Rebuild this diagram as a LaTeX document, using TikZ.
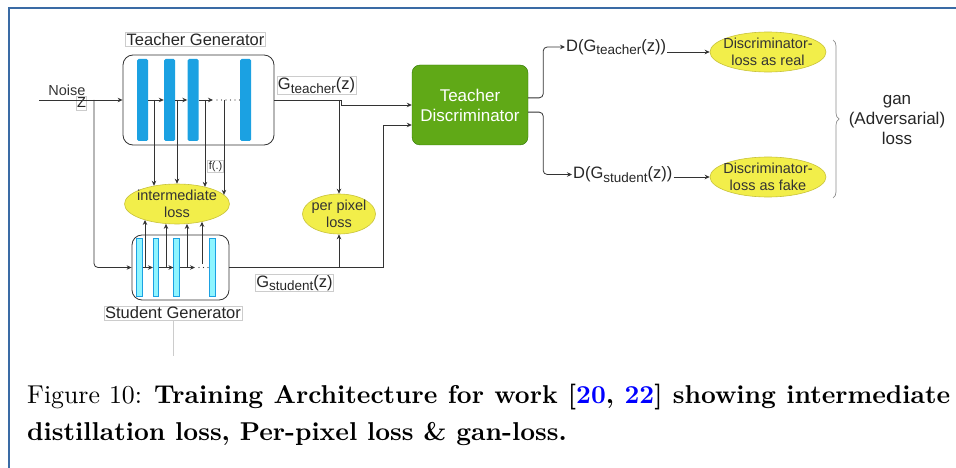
\documentclass[tikz,border=0pt]{standalone}
\usepackage{fontspec}
\usepackage{tikz}
\usepackage{xcolor}
\usetikzlibrary{positioning, calc, shapes.geometric, arrows.meta, decorations.pathreplacing}

\newfontfamily\diagfont{Liberation Sans}
\newfontfamily\capfont[Extension=.otf, BoldFont=lmroman10-bold]{lmroman10-regular}

\newcommand\bigtxt{\diagfont\fontsize{16.5}{19.5}\selectfont}
\newcommand\discrtxt{\diagfont\fontsize{17}{20}\selectfont}
\newcommand\midtxt{\diagfont\fontsize{14.5}{16.5}\selectfont}
\newcommand\smalltxt{\diagfont\fontsize{11}{13}\selectfont}
\newcommand\captxt{\capfont\fontsize{25.8}{37}\selectfont}
\newcommand\lowtxt[1]{\raisebox{-3.5pt}{\fontsize{13.5}{14}\selectfont #1}}

\definecolor{tblue}{HTML}{1BA1E2}
\definecolor{scyan}{HTML}{8EF5FF}
\definecolor{dgreen}{HTML}{60A917}
\definecolor{dgreenb}{HTML}{2D7600}
\definecolor{lyellow}{HTML}{F2EE4A}
\definecolor{yborder}{HTML}{C8C23A}
\definecolor{framecol}{HTML}{3A6BA5}
\definecolor{linecol}{HTML}{333333}

\begin{document}
\begin{tikzpicture}[x=1pt, y=-1pt,
    gen/.style={draw=black!80, line width=0.8pt, rounded corners=10pt},
    tbar/.style={fill=tblue, rounded corners=1.5pt, minimum width=11pt, minimum height=82pt, inner sep=0},
    sbar/.style={fill=scyan, draw=tblue, line width=0.6pt, minimum width=5.5pt, minimum height=58pt, inner sep=0},
    lbl/.style={draw=black!20, line width=0.6pt, inner sep=1pt, text=black!85},
    loss/.style={ellipse, fill=lyellow, draw=yborder, line width=0.6pt, inner sep=-8pt, align=center, text=black!80},
    arr/.style={-{Stealth[length=5pt,width=4.5pt]}, draw=linecol, line width=0.8pt},
    dotline/.style={draw=linecol, line width=1.1pt, line cap=round, dash pattern=on 0pt off 4.5pt},
    gbrace/.style={decorate, decoration={brace, amplitude=6pt}, draw=black!45, line width=0.7pt}]

    \useasboundingbox (0,0) rectangle (956,468);
    \draw[framecol, line width=1.6pt] (9,468) -- (9,8) -- (956,8);

    % generators
    \node[gen, minimum width=151pt, minimum height=90pt] (tgen) at (198.5,100) {};
    \node[gen, minimum width=97pt, minimum height=65pt] (sgen) at (180.5,267.5) {};
    \node[lbl, font=\bigtxt] (tgenlbl) at (195.5,39.5) {Teacher Generator};
    \node[lbl, font=\bigtxt] (sgenlbl) at (173,313) {Student Generator};
    \draw[black!20, line width=0.6pt] (sgenlbl.south) -- ++(0,36);

    \node[tbar] (tb1) at (142.5,100) {};
    \node[tbar] (tb2) at (169.5,100) {};
    \node[tbar] (tb3) at (193,100) {};
    \node[tbar] (tb4) at (245.5,100) {};

    \node[sbar] (sb1) at (139.5,267.5) {};
    \node[sbar] (sb2) at (156,267.5) {};
    \node[sbar] (sb3) at (176.5,267.5) {};
    \node[sbar] (sb4) at (212.5,267.5) {};

    % noise input
    \node[font=\midtxt, text=black!80] (noise) at (67,90) {Noise};
    \node[lbl, font=\midtxt, inner xsep=0.5pt, inner ysep=2pt] (zin) at (81.5,103) {Z};
    \coordinate (nin) at (39,100);
    \coordinate (nsplit) at (94,100);
    \draw[arr] (nin) -- (tgen.west);
    \draw[arr, rounded corners=4pt] (nsplit) |- (sgen.west);

    % inside teacher
    \coordinate (tdots) at (213,100);
    \draw[arr] (tb1) -- (tb2);
    \draw[arr] (tb2) -- (tb3);
    \draw[arr] (tb3) -- (tdots);
    \draw[dotline, shorten <=4pt] (tdots) -- (tb4);

    % inside student
    \coordinate (sdots) at (195,267.5);
    \draw[arr] (sb1) -- (sb2);
    \draw[arr] (sb2) -- (sb3);
    \draw[arr] (sb3) -- (sdots);
    \draw[dotline, shorten <=4pt] (sdots) -- (sb4);

    % losses
    \node[loss, minimum width=105pt, minimum height=40pt, font=\midtxt] (imloss) at (177,204) {intermediate\\loss};
    \node[loss, minimum width=73pt, minimum height=40pt, font=\midtxt] (pploss) at (339,214) {per pixel\\loss};
    \node[lbl, font=\smalltxt] (flbl) at (215.5,166.5) {f(.)};

    \coordinate (ttap1) at (154,100);
    \coordinate (ttap2) at (177,100);
    \coordinate (ttap3) at (205,100);
    \coordinate (ttap4) at (224,100);
    \draw[arr] (ttap1) -- (ttap1 |- imloss.142);
    \draw[arr] (ttap2) -- (ttap2 |- imloss.north);
    \draw[arr] (ttap3) -- (ttap3 |- imloss.31);
    \draw[arr] (ttap4) -- (ttap4 |- imloss.11);

    \coordinate (stap1) at (145,267.5);
    \coordinate (stap2) at (166,267.5);
    \coordinate (stap3) at (187,267.5);
    \coordinate (stap4) at (202,264);
    \draw[arr] (stap1) -- (stap1 |- imloss.206);
    \draw[arr] (stap2) -- (stap2 |- imloss.241);
    \draw[arr] (stap3) -- (stap3 |- imloss.297);
    \draw[arr] (stap4) -- (stap4 |- imloss.325);

    % discriminator
    \node[draw=dgreenb, fill=dgreen, rounded corners=8pt, minimum width=116pt, minimum height=80pt,
          text=white, align=center, font=\discrtxt] (tdisc) at (470,105) {Teacher\\Discriminator};

    \node[lbl, font=\bigtxt] (gtlbl) at (316.5,85.5) {G\lowtxt{teacher}(z)};
    \coordinate (tgout) at (339,100);
    \draw[arr] (tgen.east) -- ++(67,0) -- ++(0,5) -- (tdisc.west);
    \draw[arr] (tgout) -- (pploss.north);

    \node[lbl, font=\bigtxt] (gslbl) at (294.5,283) {G\lowtxt{student}(z)};
    \coordinate (sbend) at (383,125);
    \coordinate (sgout) at (339,267.5);
    \draw[arr] (sgen.east) -| (sbend) -- (sbend -| tdisc.west);
    \draw[arr] (sgout) -- (pploss.south);

    % discriminator outputs
    \node[anchor=west, inner sep=1pt, font=\bigtxt, text=black!85] (dgt) at (565,47) {D(G\lowtxt{teacher}(z))};
    \node[anchor=west, inner sep=1pt, font=\bigtxt, text=black!85] (dgs) at (572,174.5) {D(G\lowtxt{student}(z))};
    \draw[arr, rounded corners=4pt] (tdisc.7) -- ++(15,0) |- (dgt.west);
    \draw[arr, rounded corners=4pt] (tdisc.-7) -- ++(15,0) |- (dgs.west);

    \node[loss, minimum width=116pt, minimum height=40pt, font=\midtxt] (lreal) at (768,52) {Discriminator-\\loss as real};
    \node[loss, minimum width=116pt, minimum height=40pt, font=\midtxt] (lfake) at (768,177) {Discriminator-\\loss as fake};
    \draw[arr] (dgt.east |- lreal.west) -- (lreal.west);
    \draw[arr] (dgs.east |- lfake.west) -- (lfake.west);

    % gan loss
    \coordinate (btop) at (833,40);
    \coordinate (bbot) at (833,198);
    \draw[gbrace] (btop) -- (bbot);
    \node[font=\discrtxt, align=center, text=black!85] (ganlbl) at (897,120) {gan\\(Adversarial)\\loss};

    % caption
    \node[anchor=base west, inner sep=0, font=\captxt] (cap1) at (27,403)
        {\makebox[923pt][s]{Figure 10: \textbf{Training Architecture for work [\textcolor{blue}{20}, \textcolor{blue}{22}] showing intermediate}}};
    \node[anchor=base west, inner sep=0, font=\captxt] (cap2) at (27,440)
        {\textbf{distillation loss, Per-pixel loss \& gan-loss.}};
\end{tikzpicture}
\end{document}
